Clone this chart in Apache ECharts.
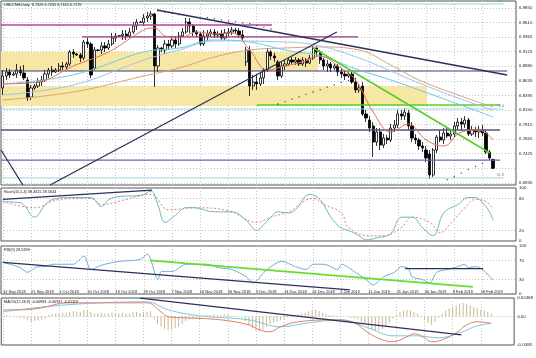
<!DOCTYPE html>
<html><head><meta charset="utf-8">
<script src="https://cdn.jsdelivr.net/npm/echarts@6/dist/echarts.min.js"></script>
<style>html,body{margin:0;padding:0;background:#fff}#c{width:536px;height:358px}</style>
</head><body><div id="c"></div>
<script>
// ---------------- DATA ----------------
const tickDates = ['12 Sep 2018','21 Sep 2018','1 Oct 2018','10 Oct 2018','19 Oct 2018','29 Oct 2018','7 Nov 2018','16 Nov 2018','26 Nov 2018','5 Dec 2018','14 Dec 2018','24 Dec 2018','2 Jan 2019','11 Jan 2019','21 Jan 2019','30 Jan 2019','8 Feb 2019','18 Feb 2019'];
const priceTicks = [6.9850,6.9610,6.9365,6.9125,6.8880,6.8635,6.8395,6.8150,6.7910,6.7665,6.7425,6.6935];
const priceGridExtra = [6.7180];
const stochTicks = [0,20,80,100];
const rsiTicks = [0,30,70,100];
const macdTicks = [-0.0383,0,0.02468];
const macdTickLabels = ['-0.0383','0.00','0.02468'];

const opens = [6.8517,6.8717,6.8784,6.8734,6.8750,6.8817,6.8767,6.8650,6.8367,6.8517,
6.8550,6.8617,6.8650,6.8750,6.8817,6.8784,6.8817,6.8883,6.8867,6.8917,
6.9117,6.9083,6.9067,6.9017,6.9283,6.9250,6.8850,6.9150,6.9150,6.9217,
6.9183,6.9250,6.9350,6.9383,6.9390,6.9417,6.9383,6.9450,6.9550,6.9616,
6.9610,6.9683,6.9716,6.9750,6.8883,6.9183,6.9150,6.9250,6.9217,6.9317,
6.9250,6.9383,6.9450,6.9616,6.9550,6.9450,6.9417,6.9250,6.9383,6.9417,
6.9450,6.9400,6.9417,6.9350,6.9433,6.9450,6.9483,6.9467,6.9400,6.8950,
6.9150,6.8550,6.8617,6.8584,6.8684,6.8817,6.9117,6.9050,6.8950,6.8717,
6.8883,6.8917,6.8983,6.8950,6.8983,6.8917,6.8983,6.8933,6.9017,6.9183,
6.9117,6.8983,6.8883,6.8917,6.8850,6.8883,6.8784,6.8750,6.8717,6.8750,
6.8617,6.8484,6.8550,6.8084,6.7984,6.7884,6.7617,6.7784,6.7567,6.7684,
6.7651,6.7850,6.7900,6.8084,6.8050,6.8100,6.7884,6.7684,6.7651,6.7551,
6.7484,6.7417,6.7068,6.7484,6.7700,6.7651,6.7767,6.7717,6.7750,6.7884,
6.7950,6.7917,6.7984,6.7750,6.7817,6.7784,6.7817,6.7767,6.7451,6.7329];
const highs = [6.8817,6.8850,6.8833,6.8784,6.8917,6.8883,6.8900,6.8700,6.8567,6.8584,
6.8684,6.8717,6.8817,6.8850,6.8883,6.8850,6.8933,6.8950,6.8950,6.9150,
6.9167,6.9100,6.9100,6.9317,6.9350,6.9283,6.9200,6.9167,6.9283,6.9283,
6.9317,6.9433,6.9433,6.9400,6.9483,6.9483,6.9517,6.9616,6.9666,6.9633,
6.9750,6.9783,6.9800,6.9766,6.9233,6.9200,6.9317,6.9317,6.9383,6.9383,
6.9450,6.9517,6.9683,6.9683,6.9583,6.9483,6.9450,6.9483,6.9483,6.9500,
6.9500,6.9467,6.9483,6.9500,6.9517,6.9533,6.9517,6.9517,6.9483,6.9200,
6.9217,6.8734,6.8734,6.8767,6.8850,6.9183,6.9150,6.9100,6.8983,6.8950,
6.8983,6.9033,6.9033,6.9033,6.9017,6.9033,6.9017,6.9067,6.9217,6.9217,
6.9150,6.9017,6.8983,6.8950,6.8917,6.8917,6.8850,6.8817,6.8784,6.8784,
6.8684,6.8584,6.8617,6.8150,6.8050,6.7950,6.7850,6.7850,6.7750,6.7734,
6.7917,6.7984,6.8150,6.8150,6.8184,6.8150,6.7950,6.7750,6.7684,6.7617,
6.7551,6.7484,6.7517,6.7734,6.7817,6.7850,6.7850,6.7817,6.7950,6.8017,
6.8017,6.8050,6.8017,6.7884,6.7867,6.7884,6.7900,6.7817,6.7484,6.7335];
const lows = [6.8400,6.8650,6.8684,6.8717,6.8684,6.8717,6.8650,6.8300,6.8317,6.8484,
6.8517,6.8550,6.8617,6.8684,6.8717,6.8767,6.8784,6.8817,6.8833,6.8883,
6.9017,6.9050,6.8950,6.8983,6.9183,6.8684,6.8817,6.9133,6.9083,6.9117,
6.9150,6.9217,6.9283,6.9367,6.9317,6.9317,6.9350,6.9417,6.9483,6.9600,
6.9550,6.9616,6.9650,6.8534,6.8784,6.9117,6.9083,6.9150,6.9183,6.9183,
6.9217,6.9350,6.9417,6.9433,6.9383,6.9367,6.9217,6.9217,6.9317,6.9367,
6.9350,6.9350,6.9317,6.9317,6.9383,6.9400,6.9417,6.9350,6.9317,6.8883,
6.8384,6.8484,6.8484,6.8550,6.8584,6.8784,6.8983,6.8950,6.8650,6.8684,
6.8817,6.8883,6.8917,6.8900,6.8883,6.8883,6.8867,6.8917,6.8983,6.9050,
6.8917,6.8817,6.8784,6.8784,6.8817,6.8717,6.8684,6.8650,6.8684,6.8584,
6.8434,6.8434,6.8050,6.7950,6.7784,6.7367,6.7551,6.7484,6.7517,6.7584,
6.7617,6.7784,6.7850,6.7984,6.7984,6.7817,6.7617,6.7584,6.7484,6.7451,
6.7284,6.7001,6.7034,6.7434,6.7617,6.7584,6.7684,6.7651,6.7700,6.7817,
6.7817,6.7850,6.7717,6.7717,6.7700,6.7684,6.7717,6.7417,6.7317,6.7165];
const closes = [6.8717,6.8784,6.8734,6.8750,6.8817,6.8767,6.8684,6.8350,6.8517,6.8550,
6.8617,6.8650,6.8750,6.8817,6.8784,6.8817,6.8883,6.8867,6.8917,6.9117,
6.9083,6.9067,6.9017,6.9283,6.9250,6.8734,6.9150,6.9140,6.9217,6.9183,
6.9250,6.9350,6.9383,6.9390,6.9417,6.9383,6.9450,6.9550,6.9616,6.9610,
6.9683,6.9716,6.9750,6.8883,6.9183,6.9150,6.9250,6.9217,6.9317,6.9250,
6.9383,6.9450,6.9616,6.9550,6.9450,6.9417,6.9250,6.9383,6.9417,6.9450,
6.9400,6.9417,6.9350,6.9433,6.9450,6.9483,6.9467,6.9400,6.9350,6.9150,
6.8550,6.8617,6.8584,6.8684,6.8817,6.9117,6.9050,6.9017,6.8717,6.8883,
6.8917,6.8983,6.8950,6.8983,6.8917,6.8983,6.8933,6.9017,6.9183,6.9117,
6.8983,6.8883,6.8917,6.8850,6.8883,6.8784,6.8750,6.8717,6.8750,6.8617,
6.8484,6.8517,6.8084,6.8017,6.7850,6.7617,6.7784,6.7567,6.7684,6.7651,
6.7850,6.7900,6.8084,6.8050,6.8117,6.7884,6.7684,6.7651,6.7551,6.7517,
6.7351,6.7068,6.7484,6.7700,6.7651,6.7767,6.7717,6.7750,6.7884,6.7950,
6.7917,6.7984,6.7750,6.7817,6.7784,6.7817,6.7767,6.7451,6.7351,6.7179];

// moving averages: [bar index, price]
const maFast = [[0,6.8584],[10,6.8617],[20,6.8883],[30,6.9117],[40,6.9483],[43,6.9517],[46,6.9383],[50,6.9350],[55,6.9450],[60,6.9417],[65,6.9433],[70,6.9150],[75,6.8817],[80,6.8883],[85,6.8950],[90,6.9050],[95,6.8883],[100,6.8650],[105,6.8117],[110,6.7784],[115,6.7917],[120,6.7651],[125,6.7551],[130,6.7784],[135,6.7817],[139,6.7651]];
const maMid = [[0,6.8584],[20,6.8734],[40,6.9117],[50,6.9183],[60,6.9317],[70,6.9283],[80,6.9150],[90,6.9050],[101,6.8817],[110,6.8650],[118,6.8484],[130,6.8230],[139,6.8034]];
const maLight = [[0,6.8400],[20,6.8567],[40,6.8983],[50,6.9150],[60,6.9300],[80,6.9283],[90,6.9217],[101,6.9017],[110,6.8800],[118,6.8600],[130,6.8330],[139,6.8150]];
const maSlow = [[0,6.8317],[20,6.8450],[40,6.8717],[50,6.8850],[60,6.9033],[70,6.9150],[80,6.9183],[90,6.9200],[101,6.9150],[110,6.8900],[118,6.8650],[130,6.8380],[139,6.8200]];
// parabolic SAR dots: [bar index, price]
const sarDots = [[44,6.9800],[46,6.9780],[48,6.9760],[50,6.9740],[58,6.9690],[60,6.9670],[62,6.9650],[64,6.9630],[66,6.9620],[68,6.9600],[70,6.9590],[72,6.9560],[74,6.9530],[76,6.9500],
[78,6.8250],[80,6.8290],[82,6.8330],[84,6.8370],[86,6.8410],[88,6.8450],[90,6.8490],[92,6.8530],[94,6.8570],[96,6.8610],[98,6.8640],
[126,6.6990],[128,6.7040],[130,6.7100],[132,6.7160],[134,6.7210],[136,6.7260]];

// stochastic (main, signal), RSI, MACD: [bar index, value]
const stochMain = [[0,74],[5,72],[9,45],[12,68],[14,78],[19,82],[25,82],[28,65],[30,78],[33,84],[39,86],[42,94],[44,68],[46,35],[49,49],[52,63],[54,63],[60,55],[65,55],[69,39],[72,20],[74,31],[76,45],[78,55],[81,53],[83,59],[87,88],[90,78],[93,45],[96,24],[98,20],[101,10],[103,2],[106,6],[110,14],[113,45],[116,45],[119,25],[122,10],[125,53],[129,69],[132,82],[134,82],[136,72],[138,55],[139,38.46]];
const stochSignal = [[0,74.5],[9,62.7],[16,78.4],[25,80.4],[28,68.6],[35,78.4],[42,88],[47,58.8],[55,62.7],[64,56.9],[72,35.3],[76,45],[81,55],[88,80.4],[91,68.6],[96,53],[98,25.5],[104,9.8],[108,9.8],[113,25.5],[116,45],[121,35.3],[124,15.7],[127,33.3],[131,62.7],[134,78.4],[137,74.5],[139,59.56]];
const rsiVals = [[0,66],[5,55],[7,45],[10,57],[12,57],[14,62],[20,62],[23,79],[25,51],[28,60],[33,68],[39,72],[41,83],[44,30],[45,47],[48,47],[52,62],[58,62],[61,55],[65,51],[69,36],[71,23],[74,45],[76,57],[79,68],[83,57],[86,51],[88,62],[91,62],[95,51],[96,62],[100,45],[103,30],[105,19],[108,36],[111,45],[113,57],[115,53],[116,36],[119,30],[121,23],[123,45],[126,51],[129,57],[131,62],[132,55],[134,57],[136,51],[139,28.57]];
const macdMain = [[0,0.0088],[5,0.0088],[11,0.0115],[18,0.0182],[28,0.0182],[41,0.0182],[45,0.0062],[47,-0.0005],[52,-0.0019],[62,-0.0046],[70,-0.0113],[73,-0.0180],[76,-0.0206],[79,-0.0139],[84,-0.0072],[95,-0.0046],[100,-0.0086],[104,-0.0220],[108,-0.0314],[111,-0.0340],[115,-0.0273],[117,-0.0233],[120,-0.0287],[122,-0.0340],[125,-0.0314],[129,-0.0220],[132,-0.0113],[135,-0.0072],[138,-0.0085],[139,-0.0098]];
const macdSignal = [[0,0.0062],[18,0.0155],[41,0.0196],[47,0.0088],[56,0.0008],[70,-0.0046],[79,-0.0139],[87,-0.0086],[96,-0.0046],[104,-0.0153],[111,-0.0260],[118,-0.0260],[124,-0.0287],[130,-0.0220],[135,-0.0126],[139,-0.0093]];
const macdHist = [0.001,0.0015,0.001,0.0005,-0.001,-0.002,-0.003,
-0.005,-0.007,-0.006,-0.005,-0.004,-0.003,
0.002,0.003,0.004,0.004,0.005,0.005,0.006,0.007,0.007,0.006,0.008,0.009,0.006,
0.004,0.004,0.005,0.004,0.004,0.005,0.004,0.004,0.005,0.004,0.004,0.005,0.006,0.005,0.006,0.006,0.007,
-0.004,-0.010,-0.014,-0.017,-0.019,-0.018,-0.016,-0.014,-0.010,-0.006,
-0.004,-0.003,-0.002,-0.002,
0.001,0.002,0.002,0.003,0.002,0.002,0.003,0.002,0.001,0.001,0.0005,-0.001,
-0.006,-0.012,-0.016,-0.019,-0.020,-0.018,-0.014,-0.010,
-0.008,-0.007,-0.005,-0.003,-0.001,
0.001,0.002,0.003,0.004,0.005,
0.007,0.009,0.009,0.007,0.005,
0.003,0.002,0.002,0.001,0.001,0.0005,-0.001,
-0.002,-0.003,-0.004,-0.007,-0.010,-0.014,
-0.018,-0.020,-0.019,-0.017,-0.014,-0.008,
-0.003,0.002,
0.006,0.008,0.009,0.008,0.006,0.004,
0.001,-0.003,
-0.008,-0.011,-0.007,
-0.002,
0.004,0.008,0.011,0.013,0.015,0.017,0.018,0.017,0.015,0.013,0.011,0.009,
0.008,0.006,0.004];

// drawn objects (bar index, value)
const trendDownLong = [[43.7,6.9816],[143,6.8734]];
const trendUpLong = [[13.4,6.6901],[94.7,6.9450]];
const trendLeftShort = [[-0.5,6.7484],[5.7,6.6901]];
const trendGreen = [[88,6.9183],[138.1,6.7434]];
const levelMagenta = [[-0.5,6.9566],[76.3,6.9566]];
const levelPurple = [[22.5,6.9367],[100.7,6.9367]];
const levelNavy1 = [[-0.5,6.8800],[143,6.8800]];
const levelNavy2 = [[-0.5,6.7817],[141,6.7817]];
const levelBlue = [[-0.5,6.7317],[141,6.7317]];
const levelGreen = [[72,6.8234],[141,6.8234]];
const fiboLevels = [{name:'100',p:6.9916},{name:'76.4',p:6.8167},{name:'61.8',p:6.7018}];
const zoneUpper = [[-0.5,6.9117],[89.4,6.8800]];
const zoneLower = [[-0.5,6.8550],[120.3,6.8217]];
const stochTrend = [[0,78.4],[42.3,96]];
const rsiTrendNavy = [[0,66],[98.4,8.5]];
const rsiTrendGreen = [[41.7,70],[133.3,14.9]];
const rsiLevelNavy = [[114,53],[136.2,53]];
const macdTrend = [[39,0.0245],[130.5,-0.0247]];

// ---------------- CHART ----------------
const N = 146;
const cats = Array.from({length:N},(_,i)=>String(i));
const dateIdx = tickDates.map((_,k)=>k*8);
const FONT = 'Liberation Sans';
const AX = {fontSize:4.4,color:'#222',fontFamily:FONT};
const dotted = {color:'#c6c6c6',type:[1,2],width:1};

const grids = [
  {left:1,right:20,top:1,height:184},
  {left:1,right:20,top:188,height:53},
  {left:1,right:20,top:246,height:48},
  {left:1,right:20,top:298,height:47}
].map(g=>Object.assign(g,{show:true,borderColor:'#555',borderWidth:1,containLabel:false}));

const xAxes = [];
for (let g=0; g<4; g++){
  xAxes.push({type:'category',gridIndex:g,data:cats,show:false,boundaryGap:true});
  xAxes.push({type:'value',gridIndex:g,min:-0.5,max:N-0.5,
    axisLine:{show:false},axisTick:{show:false,customValues:dateIdx},
    splitLine:{show:true,lineStyle:dotted},
    axisLabel: g===3 ? {show:true,customValues:dateIdx,formatter:v=>tickDates[Math.round(v/8)],align:'left',margin:4,fontSize:4,color:'#222',fontFamily:FONT} : {show:false}});
}
function yAx(g,min,max,labels,grid,fmt){
  return {type:'value',gridIndex:g,position:'right',min:min,max:max,
    axisLine:{show:false},axisTick:{show:false,customValues:grid},
    splitLine:{show:true,lineStyle:dotted},
    axisLabel:Object.assign({customValues:labels,formatter:fmt,margin:3},AX)};
}
const yAxes = [
  yAx(0,6.6901,6.9966,priceTicks,priceTicks.concat(priceGridExtra),v=>v.toFixed(4)),
  yAx(1,0,100,stochTicks,[20,80],v=>String(v)),
  yAx(2,0,100,rsiTicks,[30,70],v=>String(v)),
  yAx(3,-0.0383,0.02468,macdTicks,[0],v=>macdTickLabels[macdTicks.indexOf(v)] ?? String(v))
];

function seg(data,color,width,x,y,extra){
  return Object.assign({type:'line',xAxisIndex:x,yAxisIndex:y,data:data,symbol:'none',silent:true,
    lineStyle:{color:color,width:width},z:4},extra||{});
}
const series = [];
series.push(seg(levelNavy1,'#3c3c6e',1.2,1,0,{
  markArea:{silent:true,itemStyle:{color:'#f6e7a4'},z:1,
    data:[[{coord:zoneUpper[0]},{coord:zoneUpper[1]}],[{coord:zoneLower[0]},{coord:zoneLower[1]}]]}}));
fiboLevels.forEach(f=>series.push(seg([[-0.5,f.p],[142,f.p]],'#9fd6d6',1,1,0,{
  endLabel:{show:true,formatter:f.name,fontSize:3.8,color:'#5a9a9a',fontFamily:FONT,distance:1,offset:[-8,-3]}})));
series.push(seg(levelMagenta,'#b4479e',1.4,1,0));
series.push(seg(levelPurple,'#93357f',1.2,1,0));
series.push(seg(levelNavy2,'#55557a',1.5,1,0));
series.push(seg(levelBlue,'#6666b4',1.2,1,0));
series.push(seg(levelGreen,'#5ccc28',1.4,1,0));
series.push({type:'candlestick',xAxisIndex:0,yAxisIndex:0,barWidth:2.7,z:3,
  data:closes.map((c,i)=>[opens[i],c,lows[i],highs[i]]),
  itemStyle:{color:'#ffffff',color0:'#000000',borderColor:'#000000',borderColor0:'#000000',borderWidth:0.8},
  markLine:{silent:true,symbol:'none',lineStyle:{opacity:0},
    label:{show:true,position:'end',formatter:closes[closes.length-1].toFixed(4),backgroundColor:'#000',color:'#fff',fontSize:4.4,fontFamily:FONT,padding:[1,1,0,1],distance:2},
    data:[{yAxis:closes[closes.length-1]}]}});
series.push(seg(maSlow,'#d9a37a',1,1,0,{smooth:0.4}));
series.push(seg(maLight,'#9cc4ec',1,1,0,{smooth:0.4}));
series.push(seg(maMid,'#69cfe0',1,1,0,{smooth:0.4}));
series.push(seg(maFast,'#e0705e',1,1,0,{smooth:0.4}));
series.push({type:'scatter',xAxisIndex:1,yAxisIndex:0,data:sarDots,symbol:'rect',symbolSize:1.3,itemStyle:{color:'#333'},silent:true,z:4});
series.push(seg(trendDownLong,'#2e2e5c',1.5,1,0,{z:5}));
series.push(seg(trendUpLong,'#2e2e5c',1.3,1,0,{z:5}));
series.push(seg(trendLeftShort,'#2e2e5c',1.3,1,0,{z:5}));
series.push(seg(trendGreen,'#55cc22',1.5,1,0,{z:5}));
series.push(seg(stochSignal,'#e05a5a',1,3,1,{smooth:0.4,lineStyle:{color:'#e05a5a',width:0.8,type:[2,2]}}));
series.push(seg(stochMain,'#6bb8c4',1,3,1,{smooth:0.4}));
series.push(seg(stochTrend,'#2e2e5c',1.3,3,1));
series.push(seg(rsiVals,'#72aed8',1,5,2,{smooth:0.3}));
series.push(seg(rsiTrendNavy,'#2e2e5c',1.3,5,2));
series.push(seg(rsiTrendGreen,'#66dd33',1.8,5,2));
series.push(seg(rsiLevelNavy,'#2e2e5c',1.3,5,2));
series.push({type:'bar',xAxisIndex:6,yAxisIndex:3,data:macdHist,barWidth:1,itemStyle:{color:'#c9b890'},silent:true,z:2});
series.push(seg(macdSignal,'#7cc8dc',1,7,3,{smooth:0.4}));
series.push(seg(macdMain,'#e0806a',1,7,3,{smooth:0.4}));
series.push(seg(macdTrend,'#2e2e5c',1.4,7,3));

const txt = (t,x,y)=>({type:'text',x:x,y:y,z:10,style:{text:t,fontSize:3.8,fontFamily:FONT,fill:'#111'}});
const option = {
  animation:false,
  backgroundColor:'#ffffff',
  grid:grids, xAxis:xAxes, yAxis:yAxes, series:series,
  graphic:[
    txt('USDCNH,Daily  6.7329 6.7335 6.7165 6.7179',4,3),
    txt('Stoch(15,5,4) 38.4615 59.5644',4,190),
    txt('RSI(9) 28.5699',4,248),
    txt('MACD(12,26,9) -0.00983 -0.00927 -0.01119',4,300)
  ]
};
const chart = echarts.init(document.getElementById('c'));
chart.setOption(option);
</script></body></html>
